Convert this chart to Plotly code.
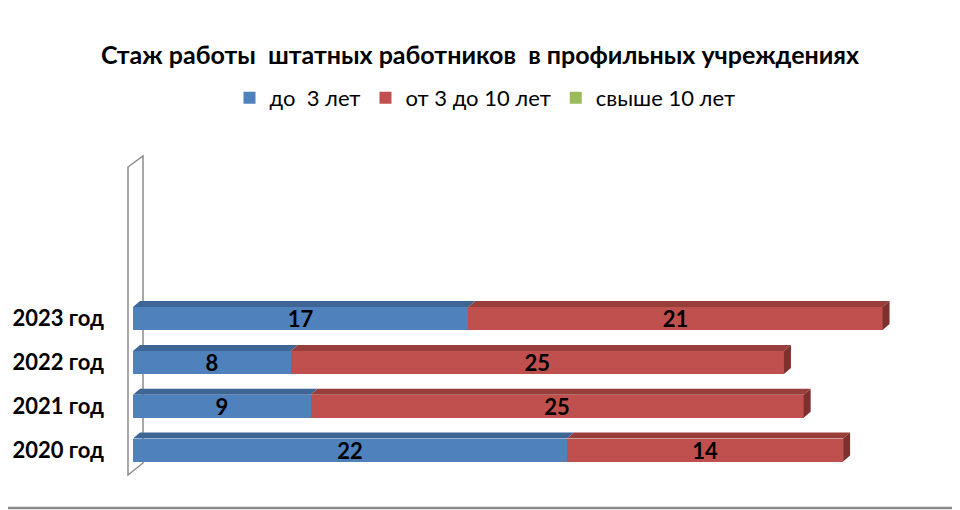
import plotly.graph_objects as go

categories = ["2020 год", "2021 год", "2022 год", "2023 год"]
under3 = [22, 9, 8, 17]
from3to10 = [14, 25, 25, 21]
over10 = [None, None, None, None]
series_names = ["до  3 лет", "от 3 до 10 лет", "свыше 10 лет"]

front = ["#4F81BD", "#C0504D", "#9BBB59"]
topc = ["#3D6595", "#983E3B", "#7A9545"]
sidec = ["#345781", "#7E302E", "#6A8240"]

FONT = "Lato"
OFF = 8  # default page body margin
W, H = 960 - OFF, 510 - OFF
PX0, PX1, PY0, PY1 = 133, 922, 160, 475   # plot area in page pixels
L, R, T, B = PX0 - OFF, W - (PX1 - OFF), PY0 - OFF, H - (PY1 - OFF)
pw, ph = PX1 - PX0, PY1 - PY0
xmax = 40.0
ymin, ymax = -0.57, 6.62
bw = 0.525
dx = 7 * xmax / pw
dy = 6 * (ymax - ymin) / ph

ypos = list(range(len(categories)))

fig = go.Figure()
for vals, name, col in zip([under3, from3to10, over10], series_names, front):
    fig.add_trace(go.Bar(
        y=ypos, x=vals, name=name, orientation="h", width=bw,
        marker=dict(color=col, line=dict(width=0)),
        text=[str(v) if v else "" for v in vals],
        textposition="inside", insidetextanchor="middle", textangle=0,
        constraintext="none",
        textfont=dict(family=FONT, size=22, color="black", weight="bold"),
        hoverinfo="skip",
    ))

def px(x):
    return (x - PX0) / pw
def py(y):
    return (PY1 - y) / ph

shapes = []
wall = f"M {px(128)},{py(167)} L {px(143)},{py(156)} L {px(143)},{py(463)} L {px(128)},{py(475)} Z"
shapes.append(dict(type="path", xref="paper", yref="paper", path=wall,
                   line=dict(color="#8C8C8C", width=1.5), fillcolor="rgba(255,255,255,0)", layer="below"))

series = [under3, from3to10, over10]
for i in ypos:
    start = 0.0
    last_end = None
    last_idx = None
    for k, vals in enumerate(series):
        v = vals[i]
        if not v:
            continue
        x0, x1 = start, start + v
        yt = i + bw / 2
        p = f"M {x0},{yt} L {x0+dx},{yt+dy} L {x1+dx},{yt+dy} L {x1},{yt} Z"
        shapes.append(dict(type="path", xref="x", yref="y", path=p,
                           line=dict(width=0), fillcolor=topc[k]))
        start = x1
        last_end, last_idx = x1, k
    if last_end is not None:
        yb, yt = i - bw / 2, i + bw / 2
        p = f"M {last_end},{yb} L {last_end+dx},{yb+dy} L {last_end+dx},{yt+dy} L {last_end},{yt} Z"
        shapes.append(dict(type="path", xref="x", yref="y", path=p,
                           line=dict(width=0), fillcolor=sidec[last_idx]))

# bottom frame line
shapes.append(dict(type="line", xref="paper", yref="paper", x0=px(OFF), x1=px(960),
                   y0=py(508), y1=py(508), line=dict(color="#8A8A8A", width=2.5)))

fig.update_layout(
    width=W, height=H,
    margin=dict(l=L, r=R, t=T, b=B, autoexpand=False),
    barmode="stack",
    plot_bgcolor="white", paper_bgcolor="white",
    font=dict(family=FONT, color="black"),
    title=dict(text="<b>Стаж работы  штатных работников  в профильных учреждениях</b>",
               x=(480 - OFF) / W, xanchor="center", y=1 - (55 - OFF) / H, yanchor="middle",
               font=dict(family=FONT, size=25, color="black")),
    legend=dict(orientation="h", x=px(485), xanchor="center", y=py(98), yanchor="middle",
                font=dict(family=FONT, size=22, color="black"),
                itemwidth=30, traceorder="normal", bgcolor="rgba(0,0,0,0)"),
    xaxis=dict(range=[0, xmax], showgrid=False, zeroline=False, showticklabels=False,
               showline=False, fixedrange=True),
    yaxis=dict(range=[ymin, ymax], tickvals=ypos, ticktext=categories,
               showgrid=False, zeroline=False, showline=False, ticks="",
               ticklabelstandoff=28, fixedrange=True,
               tickfont=dict(family=FONT, size=22, color="black", weight="bold")),
    shapes=shapes,
    showlegend=True,
)

fig.write_html("out.html", config={"displayModeBar": False})
